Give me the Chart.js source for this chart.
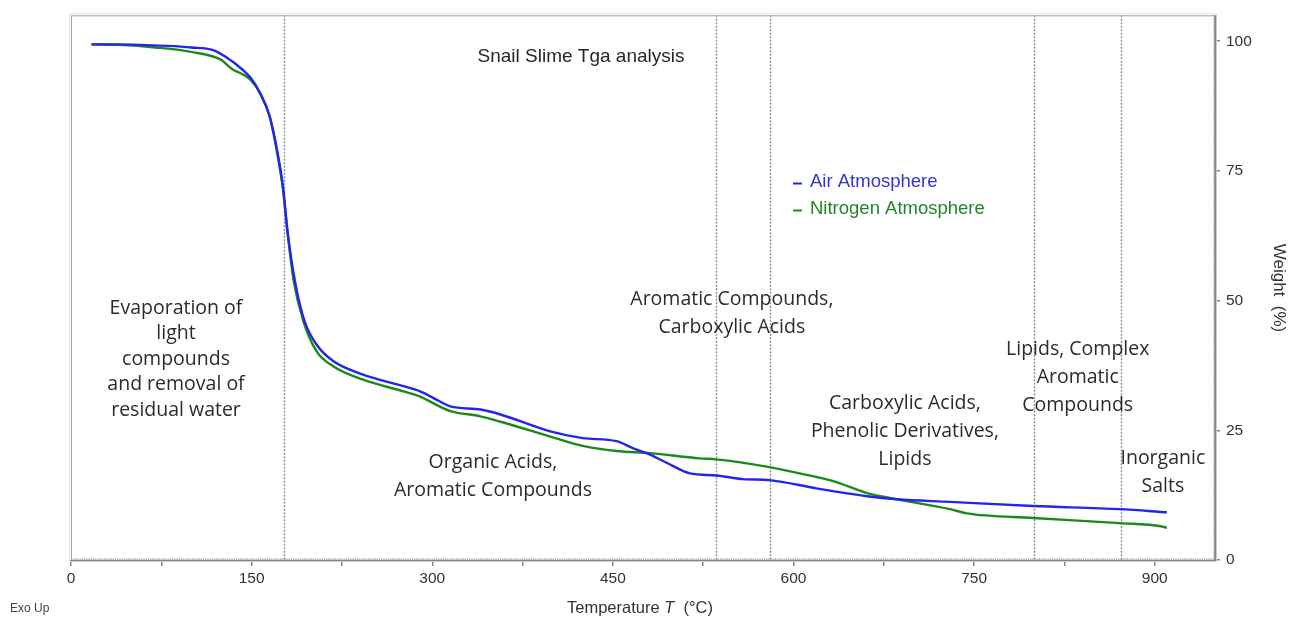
<!DOCTYPE html>
<html>
<head>
<meta charset="utf-8">
<title>Snail Slime Tga analysis</title>
<script src="https://cdn.jsdelivr.net/npm/chart.js@4.4.1/dist/chart.umd.min.js"></script>
<style>
  html, body { margin: 0; padding: 0; background: #ffffff; }
  #wrap { width: 1289px; height: 617px; position: relative; }
</style>
</head>
<body>
<div id="wrap"><canvas id="tga" width="1289" height="617"></canvas></div>
<script>
// Thermogravimetric curves: temperature (°C) and remaining weight (%)
const airTemp = [17, 40, 80, 100, 118, 129, 142, 149, 157, 165, 171, 176, 180, 186, 194, 204, 218, 242, 276, 290, 306, 315, 340, 356, 398, 425, 453, 467, 478, 495, 514, 536, 558, 580, 619, 661, 686, 730, 799, 871, 910];
const airWeight = [99.4, 99.4, 99.1, 98.8, 98.3, 96.9, 94.6, 93.0, 90.0, 85.5, 79.2, 72.0, 63.0, 53.7, 46.0, 41.5, 38.3, 35.8, 33.5, 32.5, 30.6, 29.6, 29.0, 28.1, 24.8, 23.5, 22.9, 21.5, 20.6, 18.7, 16.7, 16.3, 15.6, 15.4, 13.8, 12.3, 11.7, 11.2, 10.4, 9.8, 9.2];

const n2Temp = [17, 40, 70, 101, 124, 134, 142, 149, 157, 165, 171, 176, 180, 185, 193, 204, 218, 242, 276, 290, 306, 315, 340, 356, 398, 425, 453, 481, 522, 536, 580, 605, 633, 661, 686, 730, 744, 799, 871, 905, 910];
const n2Weight = [99.4, 99.3, 98.8, 97.9, 96.5, 94.6, 93.7, 92.6, 90.0, 85.5, 78.7, 71.5, 62.7, 53.7, 46.0, 40.2, 37.3, 34.8, 32.5, 31.5, 29.6, 28.7, 27.7, 26.7, 23.8, 22.0, 21.0, 20.6, 19.6, 19.4, 17.9, 16.7, 15.2, 12.9, 11.7, 9.8, 9.0, 8.1, 7.1, 6.5, 6.2];

// Axis ticks
const xTickLabels = [0, 150, 300, 450, 600, 750, 900];
const yTickLabels = [0, 25, 50, 75, 100];

// Temperatures separating the decomposition stages
const stageBoundaries = [177, 535.5, 580.4, 799.6, 871.8];

// Stage descriptions, anchored at (temperature, weight) of the first line
const stageLabels = [
  { t: 87.2,  w: 48.5, lines: ["Evaporation of", "light", "compounds", "and removal of", "residual water"] },
  { t: 350.4, w: 18.8, lines: ["Organic Acids,", "Aromatic Compounds"] },
  { t: 548.8, w: 50.2, lines: ["Aromatic Compounds,", "Carboxylic Acids"] },
  { t: 692.5, w: 30.2, lines: ["Carboxylic Acids,", "Phenolic Derivatives,", "Lipids"] },
  { t: 836.0, w: 40.6, lines: ["Lipids, Complex", "Aromatic", "Compounds"] },
  { t: 906.7, w: 19.6, lines: ["Inorganic", "Salts"] }
];

const seriesNames = ["Air Atmosphere", "Nitrogen Atmosphere"];
const seriesColors = ["#2424ee", "#1b8a1b"];
const legendTextColors = ["#3434d6", "#23852a"];

const toPoints = (xs, ys) => xs.map((x, i) => ({ x: x, y: ys[i] }));

const SANS = '"Liberation Sans", Arial, sans-serif';
const LABEL_FONT = '"Open Sans", "Noto Sans", sans-serif';

const decorations = {
  id: 'decorations',
  beforeDatasetsDraw(chart) {
    const { ctx, chartArea: a, scales: { x } } = chart;
    ctx.save();
    // stage boundary lines
    ctx.strokeStyle = '#7f8fa3';
    ctx.lineWidth = 1.4;
    ctx.setLineDash([2, 1.5]);
    stageBoundaries.forEach(t => {
      const px = Math.round(x.getPixelForValue(t)) + 0.5;
      ctx.beginPath();
      ctx.moveTo(px, a.top);
      ctx.lineTo(px, a.bottom);
      ctx.stroke();
    });
    ctx.restore();
  },
  afterDatasetsDraw(chart) {
    const { ctx, chartArea: a, scales: { x, y } } = chart;
    ctx.save();

    // plot frame
    ctx.strokeStyle = '#a4a4a4';
    ctx.lineWidth = 1;
    ctx.strokeRect(a.left + 0.5, a.top + 0.5, a.right - a.left - 1, a.bottom - a.top);
    ctx.strokeStyle = '#e2e2e2';
    ctx.strokeRect(a.left - 1.5, a.top - 1.5, a.right - a.left + 3, a.bottom - a.top + 3);

    // bottom and right axis lines with fine tick texture
    ctx.strokeStyle = '#7d8791';
    ctx.lineWidth = 1.5;
    ctx.beginPath();
    ctx.moveTo(a.left, a.bottom + 0.5);
    ctx.lineTo(a.right + 1, a.bottom + 0.5);
    ctx.moveTo(a.right + 0.5, a.top);
    ctx.lineTo(a.right + 0.5, a.bottom + 1);
    ctx.stroke();
    ctx.strokeStyle = '#9aa3ab';
    ctx.lineWidth = 1.5;
    ctx.setLineDash([1, 1.2]);
    ctx.beginPath();
    ctx.moveTo(a.left, a.bottom - 1);
    ctx.lineTo(a.right, a.bottom - 1);
    ctx.moveTo(a.right - 1, a.top);
    ctx.lineTo(a.right - 1, a.bottom);
    ctx.stroke();
    ctx.setLineDash([]);

    // chart title
    ctx.fillStyle = '#262626';
    ctx.font = '19px ' + SANS;
    ctx.textAlign = 'center';
    ctx.textBaseline = 'middle';
    ctx.fillText('Snail Slime Tga analysis', 581, 57);

    // legend
    ctx.textAlign = 'left';
    ctx.font = '18.5px ' + SANS;
    [182, 209].forEach((py, i) => {
      ctx.strokeStyle = seriesColors[i];
      ctx.lineWidth = 2;
      ctx.beginPath();
      ctx.moveTo(793, py + 1.5);
      ctx.lineTo(802, py + 1.5);
      ctx.stroke();
      ctx.fillStyle = legendTextColors[i];
      ctx.fillText(seriesNames[i], 810, py);
    });

    // stage descriptions
    ctx.fillStyle = '#2b2b2b';
    ctx.textAlign = 'center';
    stageLabels.forEach((s, k) => {
      const cx = x.getPixelForValue(s.t);
      const cy = y.getPixelForValue(s.w);
      const lh = k === 0 ? 25.5 : 28;
      ctx.font = (k === 0 ? '19.5px ' : '19.5px ') + LABEL_FONT;
      s.lines.forEach((line, j) => ctx.fillText(line, cx, cy + j * lh));
    });

    // axis titles
    const axisFont = '16.5px ' + SANS;
    const axisItalic = 'italic 16.5px ' + SANS;
    ctx.fillStyle = '#333333';
    ctx.font = axisFont;
    ctx.textAlign = 'left';
    const part1 = 'Temperature ';
    const part2 = 'T';
    const part3 = '  (°C)';
    const w1 = ctx.measureText(part1).width;
    const w3 = ctx.measureText(part3).width;
    ctx.font = axisItalic;
    const w2 = ctx.measureText(part2).width;
    const sx = 640 - (w1 + w2 + w3) / 2;
    const ty = 608;
    ctx.font = axisFont;
    ctx.fillText(part1, sx, ty);
    ctx.font = axisItalic;
    ctx.fillText(part2, sx + w1, ty);
    ctx.font = axisFont;
    ctx.fillText(part3, sx + w1 + w2, ty);

    ctx.save();
    ctx.translate(1279, 288);
    ctx.rotate(Math.PI / 2);
    ctx.textAlign = 'center';
    ctx.font = '17px ' + SANS;
    ctx.fillText('Weight  (%)', 0, 0);
    ctx.restore();

    ctx.fillStyle = '#444444';
    ctx.font = '12px "Liberation Sans Narrow", "Liberation Sans", sans-serif';
    ctx.textAlign = 'left';
    ctx.fillText('Exo Up', 10, 609);

    ctx.restore();
  }
};

const allXTicks = [];
for (let i = 0; i < xTickLabels.length; i++) {
  allXTicks.push(xTickLabels[i]);
  if (i < xTickLabels.length - 1) allXTicks.push((xTickLabels[i] + xTickLabels[i + 1]) / 2);
}

new Chart(document.getElementById('tga'), {
  type: 'line',
  data: {
    datasets: [
      {
        label: seriesNames[0],
        data: toPoints(airTemp, airWeight),
        borderColor: seriesColors[0],
        borderWidth: 2.4,
        pointRadius: 0,
        cubicInterpolationMode: 'monotone',
        fill: false
      },
      {
        label: seriesNames[1],
        data: toPoints(n2Temp, n2Weight),
        borderColor: seriesColors[1],
        borderWidth: 2.4,
        pointRadius: 0,
        cubicInterpolationMode: 'monotone',
        fill: false
      }
    ]
  },
  options: {
    responsive: false,
    animation: false,
    layout: { padding: { left: 71, top: 14, right: 0, bottom: 0 } },
    plugins: {
      legend: { display: false },
      title: { display: false },
      tooltip: { enabled: false }
    },
    scales: {
      x: {
        type: 'linear',
        min: 0,
        max: 950,
        afterBuildTicks: s => { s.ticks = allXTicks.map(v => ({ value: v })); },
        afterFit: s => { s.height = 57; },
        border: { display: false },
        grid: { drawOnChartArea: false, drawTicks: true, tickLength: 6, color: '#7d8791', lineWidth: 1.5 },
        ticks: {
          autoSkip: false,
          maxRotation: 0,
          padding: 3,
          color: '#333333',
          font: { family: SANS, size: 15.5 },
          callback: v => (xTickLabels.includes(v) ? String(v) : '')
        }
      },
      y: {
        position: 'right',
        min: 0,
        max: 105,
        afterBuildTicks: s => { s.ticks = yTickLabels.map(v => ({ value: v })); },
        afterFit: s => { s.width = 74; },
        border: { display: false },
        grid: { drawOnChartArea: false, drawTicks: true, tickLength: 5, color: '#7d8791', lineWidth: 1.5 },
        ticks: {
          padding: 6,
          color: '#333333',
          font: { family: SANS, size: 15.5 },
          callback: v => String(v)
        }
      }
    }
  },
  plugins: [decorations]
});
</script>
</body>
</html>
